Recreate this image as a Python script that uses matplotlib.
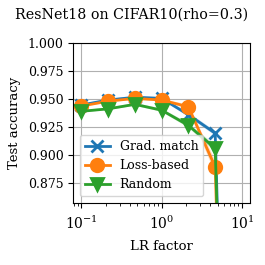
import matplotlib
matplotlib.use("Agg")
import matplotlib.pyplot as plt
import numpy as np

plt.rcParams['font.family'] = ['DejaVu Serif']
plt.rcParams['mathtext.fontset'] = 'dejavuserif'

lr_factors = [0.1, 0.2154, 0.4642, 1.0, 2.154, 4.642, 10.0]
grad_match = [0.9446, 0.9490, 0.9515, 0.9505, 0.9360, 0.9195, 0.10]
grad_match_std = [0.001, 0.001, 0.001, 0.001, 0.002, 0.002, 0.01]
loss_based = [0.9437, 0.9480, 0.9505, 0.9490, 0.9430, 0.8895, 0.10]
loss_based_std = [0.001, 0.001, 0.001, 0.001, 0.002, 0.006, 0.01]
random_sel = [0.9390, 0.9412, 0.9452, 0.9400, 0.9265, 0.9060, 0.10]
random_std = [0.001, 0.001, 0.0012, 0.0015, 0.002, 0.003, 0.01]

title = "ResNet18 on CIFAR10(rho=0.3)"
xlabel = "LR factor"
ylabel = "Test accuracy"
labels = ["Grad. match", "Loss-based", "Random"]

fig = plt.figure(figsize=(2.65, 2.65), dpi=100)
ax = fig.add_axes([0.2767, 0.235, 0.9434 - 0.2767, 0.839 - 0.235])

series = [(grad_match, grad_match_std, 'x', '#1f77b4'),
          (loss_based, loss_based_std, 'o', '#ff7f0e'),
          (random_sel, random_std, 'v', '#2ca02c')]
x = np.array(lr_factors)
for (vals, std, m, c), lab in zip(series, labels):
    v = np.array(vals)
    s = np.array(std)
    ax.fill_between(x, v - s, v + s, color=c, alpha=0.25, linewidth=0)
    ax.plot(x, v, marker=m, color=c, label=lab, linewidth=2,
            markersize=9, markeredgewidth=2)

ax.set_xscale('log')
ax.set_xlim(10 ** -1.1, 10 ** 1.1)
ax.set_ylim(0.8578, 1.0)
ax.set_yticks([0.875, 0.900, 0.925, 0.950, 0.975, 1.000])
ax.grid(True, which='major', color='#b0b0b0', linewidth=0.8)
ax.tick_params(labelsize=9)
ax.tick_params(axis='x', labelsize=10, pad=5)
fig.suptitle(title, fontsize=10.3, x=0.495, y=0.945, va='center')
ax.set_xlabel(xlabel, fontsize=9.5, labelpad=6)
ax.set_ylabel(ylabel, fontsize=9.5, labelpad=5)
ax.legend(loc='lower left', fontsize=9, handlelength=2.0)

fig.savefig("out.png", dpi=100)
